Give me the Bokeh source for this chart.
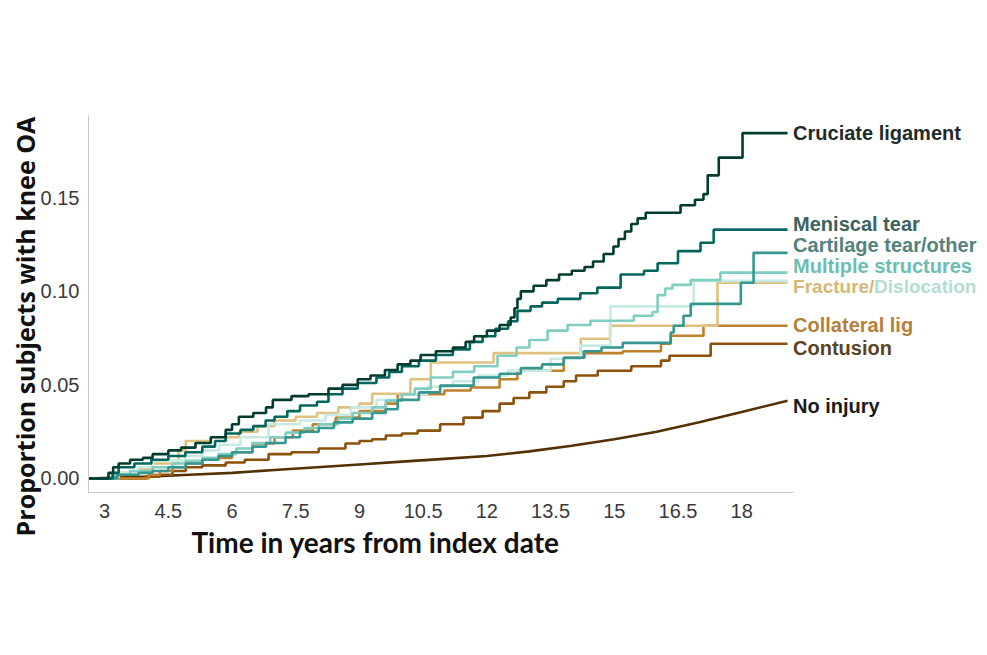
import math
from bokeh.plotting import figure
from bokeh.models import Label, FixedTicker, Range1d
from bokeh.embed import file_html
from bokeh.resources import INLINE

# ---------------- data ----------------
x_ticks = [3, 4.5, 6, 7.5, 9, 10.5, 12, 13.5, 15, 16.5, 18]
x_tick_labels = ["3", "4.5", "6", "7.5", "9", "10.5", "12", "13.5", "15", "16.5", "18"]
y_ticks = [0.0, 0.05, 0.10, 0.15]
y_tick_labels = ["0.00", "0.05", "0.10", "0.15"]

cru_t = [2.62, 3.09, 3.20, 3.33, 3.60, 3.90, 4.13, 4.50, 4.80, 5.14, 5.50, 5.85, 6.00, 6.16, 6.50, 6.80, 6.96, 7.40, 7.80, 8.27,
         8.60, 8.96, 9.26, 9.60, 9.90, 10.20, 10.44, 10.80, 11.20, 11.50, 11.70, 12.00, 12.30, 12.56, 12.65, 12.72, 12.80, 13.10,
         13.40, 13.70, 14.00, 14.30, 14.50, 14.75, 14.98, 15.10, 15.25, 15.40, 15.55, 15.74, 16.56, 16.90, 17.10, 17.20, 17.46,
         18.02, 19.08]
cru_v = [0, 0.003, 0.006, 0.008, 0.010, 0.011, 0.013, 0.015, 0.0165, 0.019, 0.022, 0.026, 0.029, 0.033, 0.035, 0.038, 0.042,
         0.044, 0.045, 0.048, 0.050, 0.053, 0.055, 0.058, 0.061, 0.063, 0.066, 0.068, 0.070, 0.073, 0.076, 0.079, 0.082, 0.086,
         0.091, 0.096, 0.100, 0.103, 0.106, 0.109, 0.111, 0.113, 0.116, 0.120, 0.124, 0.128, 0.132, 0.136, 0.139, 0.142, 0.146,
         0.149, 0.152, 0.162, 0.1715, 0.1846, 0.1846]

men_t = [2.62, 3.19, 3.33, 3.70, 4.10, 4.50, 4.90, 5.30, 5.60, 5.85, 6.20, 6.50, 6.79, 7.00, 7.30, 7.60, 8.00, 8.27, 8.60, 8.96,
         9.40, 9.70, 10.00, 10.40, 10.80, 11.20, 11.60, 11.90, 12.20, 12.50, 12.72, 13.03, 13.30, 13.67, 14.20, 14.60, 15.15,
         15.70, 16.02, 16.50, 17.03, 17.34, 19.08]
men_v = [0, 0.003, 0.006, 0.008, 0.010, 0.012, 0.014, 0.017, 0.020, 0.024, 0.026, 0.028, 0.031, 0.033, 0.036, 0.039, 0.041,
         0.045, 0.048, 0.051, 0.054, 0.057, 0.060, 0.063, 0.066, 0.069, 0.073, 0.076, 0.080, 0.084, 0.0896, 0.092, 0.094, 0.096,
         0.099, 0.102, 0.109, 0.111, 0.115, 0.1215, 0.126, 0.133, 0.133]

car_t = [2.62, 3.30, 3.80, 4.13, 4.50, 4.91, 5.30, 5.68, 6.00, 6.48, 6.80, 7.26, 7.60, 8.04, 8.40, 8.84, 9.30, 9.62, 9.90, 10.40,
         10.90, 11.69, 12.30, 12.80, 13.30, 13.81, 14.28, 14.70, 15.20, 16.33, 16.40, 16.63, 16.80, 17.98, 18.28, 19.08]
car_v = [0, 0.002, 0.003, 0.004, 0.006, 0.008, 0.010, 0.012, 0.014, 0.017, 0.019, 0.022, 0.025, 0.027, 0.030, 0.032, 0.035,
         0.037, 0.042, 0.046, 0.0496, 0.054, 0.056, 0.059, 0.061, 0.0645, 0.068, 0.070, 0.0725, 0.078, 0.0816, 0.087, 0.0933,
         0.1046, 0.1206, 0.1206]

mul_t = [2.62, 3.19, 3.60, 4.13, 4.60, 4.91, 5.30, 5.68, 6.10, 6.48, 6.90, 7.26, 7.70, 8.04, 8.50, 8.84, 9.30, 9.62, 10.00, 10.30,
         10.68, 11.20, 11.70, 12.25, 12.70, 13.00, 13.43, 13.90, 14.44, 15.46, 15.90, 16.02, 16.20, 16.37, 16.80, 17.50, 19.08]
mul_v = [0, 0.002, 0.004, 0.006, 0.008, 0.0095, 0.011, 0.013, 0.016, 0.019, 0.022, 0.0245, 0.027, 0.029, 0.032, 0.035, 0.038,
         0.0416, 0.045, 0.048, 0.054, 0.057, 0.060, 0.0656, 0.070, 0.074, 0.079, 0.082, 0.0843, 0.087, 0.089, 0.098, 0.1015,
         0.1035, 0.106, 0.110, 0.110]

dis_t = [2.62, 3.30, 3.80, 4.13, 4.90, 5.30, 5.70, 6.20, 6.86, 7.60, 8.20, 8.80, 9.40, 10.00, 10.60, 11.20, 11.80, 12.50, 13.50,
         14.20, 14.91, 16.87, 19.08]
dis_v = [0, 0.003, 0.006, 0.0096, 0.012, 0.015, 0.018, 0.022, 0.029, 0.031, 0.034, 0.038, 0.042, 0.045, 0.049, 0.052, 0.055,
         0.0576, 0.064, 0.071, 0.092, 0.1056, 0.1056]

fra_t = [2.62, 3.33, 3.80, 4.13, 4.74, 4.91, 5.50, 6.16, 6.60, 7.00, 7.50, 8.00, 8.50, 9.00, 9.30, 10.20, 10.68, 12.16, 14.21,
         14.90, 17.43, 19.08]
fra_v = [0, 0.003, 0.005, 0.008, 0.015, 0.020, 0.022, 0.025, 0.028, 0.031, 0.033, 0.035, 0.038, 0.040, 0.0453, 0.053, 0.062,
         0.067, 0.0747, 0.0816, 0.1046, 0.1046]

col_t = [2.62, 4.04, 4.30, 4.60, 4.91, 5.30, 5.68, 6.00, 6.48, 7.00, 7.43, 7.90, 8.44, 9.00, 9.62, 9.90, 11.00, 11.62, 12.30,
         12.72, 13.81, 14.30, 15.20, 16.10, 16.33, 17.10, 19.08]
col_v = [0, 0.002, 0.004, 0.006, 0.008, 0.010, 0.011, 0.014, 0.0187, 0.022, 0.0256, 0.029, 0.0325, 0.036, 0.040, 0.045, 0.047,
         0.0486, 0.053, 0.0576, 0.0645, 0.067, 0.068, 0.072, 0.0763, 0.0816, 0.0816]

con_t = [2.62, 3.97, 4.30, 4.60, 4.91, 5.30, 5.85, 6.30, 6.86, 7.40, 8.04, 8.67, 9.00, 9.30, 9.62, 10.00, 10.37, 10.90, 11.45,
         11.90, 12.30, 12.63, 13.00, 13.40, 13.81, 14.10, 14.61, 15.40, 16.10, 16.30, 17.27, 19.08]
con_v = [0, 0.001, 0.002, 0.004, 0.006, 0.007, 0.0085, 0.010, 0.013, 0.014, 0.016, 0.0187, 0.020, 0.021, 0.023, 0.024, 0.0256,
         0.029, 0.0325, 0.036, 0.040, 0.043, 0.046, 0.049, 0.052, 0.055, 0.0576, 0.060, 0.063, 0.0656, 0.072, 0.072]

noi_t = [2.62, 4, 5, 6, 7, 8, 9, 10, 11, 12, 13, 14, 15, 16, 17, 18, 19.08]
noi_v = [0, 0.001, 0.002, 0.003, 0.0045, 0.006, 0.0075, 0.009, 0.0105, 0.012, 0.0145, 0.0175, 0.021, 0.025, 0.030, 0.0355, 0.0416]

# ---------------- styling / layout ----------------
LINE_W = 2.6
series = [
    (noi_t, noi_v, "#543005", False),
    (con_t, con_v, "#8c510a", True),
    (col_t, col_v, "#bf812d", True),
    (fra_t, fra_v, "#dfc27d", True),
    (dis_t, dis_v, "#c7eae5", True),
    (mul_t, mul_v, "#80cdc1", True),
    (car_t, car_v, "#35978f", True),
    (men_t, men_v, "#01665e", True),
    (cru_t, cru_v, "#003c30", True),
]

# label text, label colour, label vertical position (data units)
labels = [
    ("Cruciate ligament", "#1e2b2a", 0.1846),
    ("Meniscal tear", "#3b625e", 0.1361),
    ("Cartilage tear/other", "#52837e", 0.1249),
    ("Multiple structures", "#6dbdb2", 0.1137),
    ("Collateral lig", "#b4813c", 0.0822),
    ("Contusion", "#5b4424", 0.0699),
    ("No injury", "#1a1a1a", 0.0390),
]

W, H = 985, 650
AX_X0, AX_X1 = 2.62, 19.22        # extent of the x axis line
AX_Y0, AX_Y1 = -0.0075, 0.194     # extent of the y axis line
PX_X, PX_Y = 42.47, 1871.0        # pixels per year / per unit proportion
LEFT_PX, TOP_PX = 88, 115         # pixel position of the axes corner

x_range = Range1d(AX_X0 - LEFT_PX / PX_X, AX_X0 + (W - LEFT_PX) / PX_X)
y_range = Range1d(AX_Y1 - (H - TOP_PX) / PX_Y, AX_Y1 + TOP_PX / PX_Y)

p = figure(width=W, height=H, x_range=x_range, y_range=y_range,
           output_backend="svg", toolbar_location=None,
           min_border_left=0, min_border_right=0, min_border_top=0, min_border_bottom=0)
p.background_fill_color = "white"
p.border_fill_color = "white"
p.outline_line_color = None
p.xgrid.visible = False
p.ygrid.visible = False

for t, v, c, is_step in series:
    if is_step:
        p.step(t, v, mode="after", line_color=c, line_width=LINE_W)
    else:
        p.line(t, v, line_color=c, line_width=LINE_W)

xa = p.xaxis[0]
xa.fixed_location = AX_Y0
xa.bounds = (AX_X0, AX_X1)
xa.ticker = FixedTicker(ticks=x_ticks)
xa.major_label_overrides = {t: s for t, s in zip(x_ticks, x_tick_labels)}
ya = p.yaxis[0]
ya.fixed_location = AX_X0
ya.bounds = (AX_Y0, AX_Y1)
ya.ticker = FixedTicker(ticks=y_ticks)
ya.major_label_overrides = {t: s for t, s in zip(y_ticks, y_tick_labels)}
for ax in (xa, ya):
    ax.axis_line_color = "#c8c8c8"
    ax.axis_line_width = 1
    ax.major_tick_line_color = None
    ax.minor_tick_line_color = None
    ax.major_label_text_font = "Liberation Sans"
    ax.major_label_text_font_size = "20px"
    ax.major_label_text_color = "#3a3a3a"
xa.major_label_standoff = 5
ya.major_label_standoff = 3

LX = AX_X1 - 0.01
common = dict(text_font="Liberation Sans", text_font_style="bold", text_font_size="20px",
              text_baseline="middle", text_align="left")
for text, c, ly in labels:
    p.add_layout(Label(x=LX, y=ly, text=text, text_color=c, **common))
# two-coloured label (slightly smaller so it stays inside the page)
small = dict(common, text_font_size="19px")
p.add_layout(Label(x=LX, y=0.1025, text="Fracture/", text_color="#d2b874", **small))
p.add_layout(Label(x=LX, y=0.1025, x_offset=81, text="Dislocation", text_color="#b5dbd5", **small))

# axis titles
p.add_layout(Label(x=9.378, y=-0.0337, text="Time in years from index date", text_font="Lato",
                   text_font_style="bold", text_font_size="28px", text_color="#111111",
                   text_align="center", text_baseline="middle"))
p.add_layout(Label(x=1.13, y=0.0812, text="Proportion subjects with knee OA", text_font="Open Sans",
                   text_font_style="bold", text_font_size="25px", text_color="#111111",
                   text_align="center", text_baseline="middle", angle=math.pi / 2))

open("out.html", "w").write(file_html(p, INLINE))
